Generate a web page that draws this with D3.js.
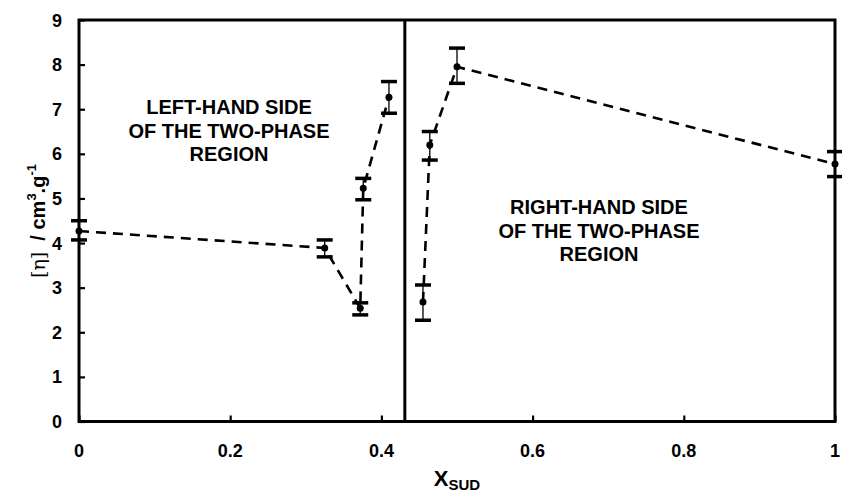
<!DOCTYPE html>
<html>
<head>
<meta charset="utf-8">
<script src="https://cdn.jsdelivr.net/npm/d3@7"></script>
<style>
  body { margin: 0; background: #fff; }
  svg { display: block; font-family: "Liberation Sans", Arial, sans-serif; }
</style>
</head>
<body>
<svg id="chart" width="842" height="499"></svg>
<script>
// data
const xSud     = [0,    0.325, 0.372, 0.376, 0.41, 0.455, 0.464, 0.5,  1];
const eta      = [4.27, 3.89,  2.54,  5.23,  7.27, 2.68,  6.20,  7.95, 5.77];
const etaUpper = [4.50, 4.07,  2.66,  5.45,  7.62, 3.06,  6.50,  8.37, 6.05];
const etaLower = [4.07, 3.69,  2.39,  4.97,  6.91, 2.27,  5.86,  7.58, 5.49];
const phaseBoundary = 0.431;

const xTicks = [0, 0.2, 0.4, 0.6, 0.8, 1];
const yTicks = [0, 1, 2, 3, 4, 5, 6, 7, 8, 9];

const leftLabel  = ["LEFT-HAND SIDE", "OF THE TWO-PHASE", "REGION"];
const rightLabel = ["RIGHT-HAND SIDE", "OF THE TWO-PHASE", "REGION"];

const svg = d3.select("#chart");
const margin = { left: 79, right: 7, top: 20, bottom: 77.5 };
const width = 842, height = 499;

const x = d3.scaleLinear().domain([0, 1]).range([margin.left, width - margin.right]);
const y = d3.scaleLinear().domain([0, 9]).range([height - margin.bottom, margin.top]);

const data = xSud.map((v, i) => ({ x: v, y: eta[i], hi: etaUpper[i], lo: etaLower[i] }));
const leftData = data.filter(d => d.x < phaseBoundary);
const rightData = data.filter(d => d.x > phaseBoundary);

// axes (ticks inward, labels drawn separately)
const yAxis = svg.append("g")
    .attr("transform", `translate(${margin.left},0)`)
    .call(d3.axisRight(y).tickValues(yTicks).tickSize(6).tickFormat(""));
const xAxis = svg.append("g")
    .attr("transform", `translate(0,${y(0)})`)
    .call(d3.axisTop(x).tickValues(xTicks).tickSize(6).tickFormat(""));
[yAxis, xAxis].forEach(a => {
    a.select(".domain").remove();
    a.selectAll(".tick line").attr("stroke", "#000").attr("stroke-width", 2.2);
});

svg.selectAll(".ylab")
    .data(yTicks)
    .enter()
    .append("text")
    .attr("x", 62)
    .attr("y", d => y(d) + 6.5)
    .attr("text-anchor", "end")
    .style("font-size", "18px")
    .style("font-weight", "bold")
    .text(d => d);

svg.selectAll(".xlab")
    .data(xTicks)
    .enter()
    .append("text")
    .attr("x", d => x(d))
    .attr("y", 457)
    .attr("text-anchor", "middle")
    .style("font-size", "18px")
    .style("font-weight", "bold")
    .text(d => d);

// frame + boundary line
svg.append("rect")
    .attr("x", x(0)).attr("y", y(9))
    .attr("width", x(1) - x(0)).attr("height", y(0) - y(9))
    .attr("fill", "none").attr("stroke", "#000").attr("stroke-width", 3);
svg.append("line")
    .attr("x1", x(phaseBoundary)).attr("x2", x(phaseBoundary))
    .attr("y1", y(9)).attr("y2", y(0))
    .attr("stroke", "#000").attr("stroke-width", 3);

// dashed connecting lines
const line = d3.line().x(d => x(d.x)).y(d => y(d.y));
[leftData, rightData].forEach(s => {
    svg.append("path")
        .attr("d", line(s))
        .attr("fill", "none")
        .attr("stroke", "#000")
        .attr("stroke-width", 2.6)
        .attr("stroke-dasharray", "10 7");
});

// error bars
const capW = 8;
svg.selectAll(".ebar")
    .data(data)
    .enter()
    .append("line")
    .attr("x1", d => x(d.x)).attr("x2", d => x(d.x))
    .attr("y1", d => y(d.lo)).attr("y2", d => y(d.hi))
    .attr("stroke", "#000").attr("stroke-width", 1.3);
["hi", "lo"].forEach(k => {
    svg.selectAll(".cap" + k)
        .data(data)
        .enter()
        .append("line")
        .attr("x1", d => x(d.x) - capW).attr("x2", d => x(d.x) + capW)
        .attr("y1", d => y(d[k])).attr("y2", d => y(d[k]))
        .attr("stroke", "#000").attr("stroke-width", 3.5);
});

svg.selectAll(".pt")
    .data(data)
    .enter()
    .append("circle")
    .attr("cx", d => x(d.x)).attr("cy", d => y(d.y))
    .attr("r", 3.5)
    .attr("fill", "#000");

// region annotations
function block(lines, cx, y0) {
    svg.append("g").selectAll("text")
        .data(lines)
        .enter()
        .append("text")
        .attr("x", cx)
        .attr("y", (d, i) => y0 + i * 23.5)
        .attr("text-anchor", "middle")
        .style("font-size", "20px")
        .style("font-weight", "bold")
        .text(d => d);
}
block(leftLabel, 229, 114);
block(rightLabel, 599, 214);

// axis titles
const xt = svg.append("text")
    .attr("x", 457).attr("y", 486)
    .attr("text-anchor", "middle")
    .style("font-weight", "bold");
xt.append("tspan").style("font-size", "22px").text("X");
xt.append("tspan").style("font-size", "15px").attr("dy", 4).text("SUD");

const yt = svg.append("text")
    .attr("transform", "translate(45,221) rotate(-90)")
    .attr("text-anchor", "middle")
    .style("font-size", "20px");
yt.append("tspan").style("font-family", "'DejaVu Serif', serif").style("font-size", "19px").text("[η]");
yt.append("tspan").style("font-weight", "bold").text("\u00a0 / cm");
yt.append("tspan").style("font-weight", "bold").style("font-size", "13px").attr("dy", -9).text("3");
yt.append("tspan").style("font-weight", "bold").attr("dy", 9).text(".g");
yt.append("tspan").style("font-weight", "bold").style("font-size", "13px").attr("dy", -9).text("-1");
</script>
</body>
</html>
